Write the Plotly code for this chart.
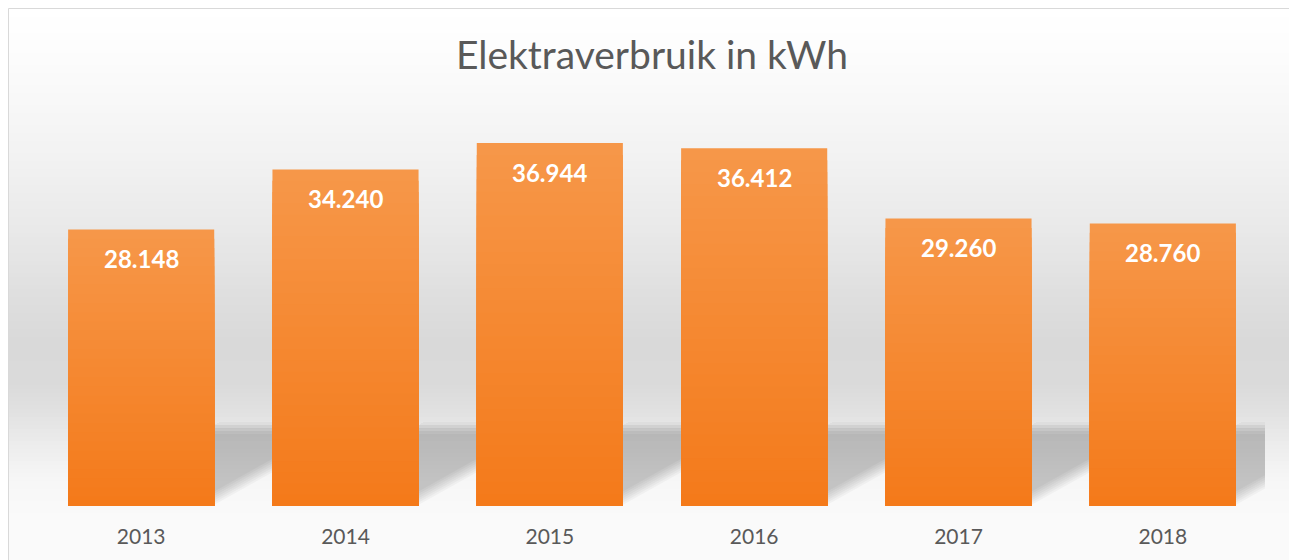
import plotly.graph_objects as go
import numpy as np

# ---- data ----
years = ["2013", "2014", "2015", "2016", "2017", "2018"]
values = [28148, 34240, 36944, 36412, 29260, 28760]
value_labels = ["28.148", "34.240", "36.944", "36.412", "29.260", "28.760"]
title_text = "Elektraverbruik in kWh"

# ---- layout geometry (page body adds an 8px offset) ----
OFF = 8
W, H = 1297 - OFF, 560 - OFF
ML, MR, MT, MB = 39 - OFF, 32, 113 - OFF, 54
PW, PH = W - ML - MR, H - MT - MB
YMAX = 40000
BARGAP = 0.285
BASE = H - MB  # figure pixel row of baseline

idx = list(range(len(years)))
ux = PW / len(years)   # px per category unit
uy = PH / YMAX         # px per value unit
half = (1 - BARGAP) / 2


def pxx(p):  # p in screen px
    return (p - OFF - ML) / PW


def pxy(p):
    return (BASE - (p - OFF)) / PH


shapes = []

# background gradient (chart area), screen coordinates
sy = [8, 60, 130, 190, 250, 300, 340, 385, 417, 450, 483, 520, 560]
sg = [255, 252, 245, 238, 230, 222, 217, 218, 227, 238, 247, 250, 250]
for y0 in range(9, 561, 4):
    y1 = y0 + 5
    g = int(round(np.interp(y0 + 2, sy, sg)))
    shapes.append(dict(type="rect", xref="paper", yref="paper",
                       x0=pxx(9), x1=pxx(1292), y0=pxy(y1), y1=pxy(y0),
                       fillcolor=f"rgb({g},{g},{g})", line_width=0, layer="below"))

# chart border
shapes.append(dict(type="rect", xref="paper", yref="paper",
                   x0=pxx(8.5), x1=pxx(1292.5), y0=pxy(575), y1=pxy(8.5),
                   line=dict(color="#d9d9d9", width=1), fillcolor="rgba(0,0,0,0)",
                   layer="below"))

# perspective shadows behind bars (soft right edge: several shifted copies)
slope = 1.79
EDGE = -14
SB = BASE + OFF  # screen baseline (506)
offsets = [-12, -8, -4, 0, 4, 8, 12]
TOP0, TOP1 = 418, 438


def shadow_alpha(p):
    if p >= TOP1:
        return 0.21
    if p <= TOP0:
        return 0.0
    t = (p - TOP0) / (TOP1 - TOP0)
    return 0.21 * (3 * t * t - 2 * t * t * t)


STEP = 3
for i in idx:
    for ypb in range(SB, TOP0, -STEP):
        ypt = ypb - STEP
        a_total = shadow_alpha((ypb + ypt) / 2)
        if a_total <= 0.002:
            continue
        a = 1 - (1 - a_total) ** (1 / len(offsets))
        db = (SB - ypb) * slope / ux
        dt = (SB - ypt) * slope / ux
        yb = (SB - ypb) / uy
        yt = (SB - ypt) / uy
        for o in offsets:
            s = (o + EDGE) / ux
            xr_b = max(i + half + db + s, i - half + db)
            xr_t = max(i + half + dt + s, i - half + dt)
            path = (f"M{i - half + db},{yb} L{xr_b},{yb} "
                    f"L{xr_t},{yt} L{i - half + dt},{yt} Z")
            shapes.append(dict(type="path", xref="x", yref="y", path=path,
                               fillcolor=f"rgba(0,0,0,{a:.4f})", line_width=0,
                               layer="below"))

fig = go.Figure()

# bars with vertical gradient (overlaid layers, relative to each bar's height)
N = 30
top = np.array([247, 152, 74])
bot = np.array([244, 122, 26])
for k in range(N):
    f = 1 - k / N
    h = 1 - (k + 0.5) / N
    c = bot + (top - bot) * h
    fig.add_trace(go.Bar(
        x=idx, y=[v * f for v in values], width=1 - BARGAP,
        marker=dict(color=f"rgb({int(c[0])},{int(c[1])},{int(c[2])})", line=dict(width=0)),
        hoverinfo="skip", showlegend=False))

annotations = []
for i, v, lab in zip(idx, values, value_labels):
    annotations.append(dict(x=i, y=v, xref="x", yref="y", text=lab, showarrow=False,
                            yshift=-29, yanchor="middle",
                            font=dict(family="Lato", size=24, color="white", weight="bold")))

fig.update_layout(
    width=W, height=H,
    margin=dict(l=ML, r=MR, t=MT, b=MB),
    paper_bgcolor="white", plot_bgcolor="rgba(0,0,0,0)",
    barmode="overlay",
    title=dict(text=title_text, x=0.5, xref="paper", y=1 - (55 - OFF) / H, yref="container",
               yanchor="middle", xanchor="center",
               font=dict(family="Lato", size=39, color="#595959")),
    xaxis=dict(range=[-0.5, len(years) - 0.5], tickmode="array", tickvals=idx, ticktext=years,
               showgrid=False, zeroline=False, showline=False, ticks="",
               tickfont=dict(family="Lato", size=21, color="#595959"),
               ticklabelstandoff=16),
    yaxis=dict(range=[0, YMAX], visible=False, showgrid=False, zeroline=False),
    shapes=shapes, annotations=annotations,
)

fig.write_html("out.html")
